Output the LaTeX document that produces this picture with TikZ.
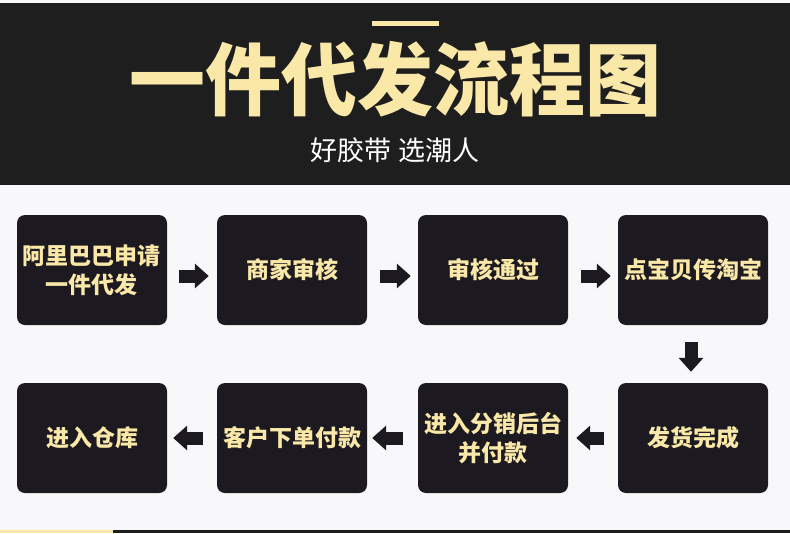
\documentclass[tikz,border=0pt]{standalone}
\usepackage{fontspec}
\setmainfont{Noto Sans CJK SC}
\usepackage{tikz}
\usetikzlibrary{arrows.meta}

\definecolor{bandblack}{RGB}{30,30,30}
\definecolor{boxblack}{RGB}{28,26,32}
\definecolor{cream}{RGB}{250,232,168}
\definecolor{paper}{RGB}{248,248,250}

\tikzset{
    stepbox/.style={rectangle, rounded corners=8pt, fill=boxblack, minimum width=150pt, minimum height=110pt, text=cream, align=center, inner sep=0pt, font=\bfseries\fontsize{23}{29}\selectfont},
    flow/.style={-{Triangle[width=24pt, length=14pt]}, line width=13pt, boxblack}
}

\begin{document}
\begin{tikzpicture}[x=1pt, y=-1pt]
        \useasboundingbox (0,0) rectangle (790,533);
        \fill[paper] (0,0) rectangle (790,533);
        \fill[bandblack] (0,3) rectangle (790,185);
        \fill[cream] (372,21) rectangle (439,26);
        \fill[cream] (0,530) rectangle (113,533);
        \fill[bandblack] (113,530) rectangle (790,533);

        \node[text=cream, inner sep=0pt, font=\bfseries\fontsize{76}{80}\selectfont, yscale=1.04] at (395, 79) (title) {一件代发流程图};
        \node[text=white, inner sep=0pt, font=\fontsize{27}{30}\selectfont] at (395, 150) (subtitle) {好胶带 选潮人};

        \node[stepbox] at (92, 270)  (apply)   {阿里巴巴申请\\一件代发};
        \node[stepbox] at (292, 270) (review)  {商家审核};
        \node[stepbox] at (493, 270) (passed)  {审核通过};
        \node[stepbox] at (693, 270) (upload)  {点宝贝传淘宝};
        \node[stepbox] at (693, 438) (shipped) {发货完成};
        \node[stepbox] at (493, 438) (backend) {进入分销后台\\并付款};
        \node[stepbox] at (292, 438) (order)   {客户下单付款};
        \node[stepbox] at (92, 438)  (store)   {进入仓库};

        \draw [flow, shorten <=12pt, shorten >=8pt] ([yshift=-6pt]apply.east) -- ([yshift=-6pt]review.west);
        \draw [flow, shorten <=13pt, shorten >=7pt] ([yshift=-6pt]review.east) -- ([yshift=-6pt]passed.west);
        \draw [flow, shorten <=13pt, shorten >=7pt] ([yshift=-6pt]passed.east) -- ([yshift=-6pt]upload.west);
        \draw [flow, shorten <=17pt, shorten >=11pt] ([xshift=-2pt]upload.south) -- ([xshift=-2pt]shipped.north);
        \draw [flow, shorten <=14pt, shorten >=8pt] (shipped.west) -- (backend.east);
        \draw [flow, shorten <=15pt, shorten >=5pt] (backend.west) -- (order.east);
        \draw [flow, shorten <=14pt, shorten >=6pt] (order.west) -- (store.east);
    \end{tikzpicture}
\end{document}
